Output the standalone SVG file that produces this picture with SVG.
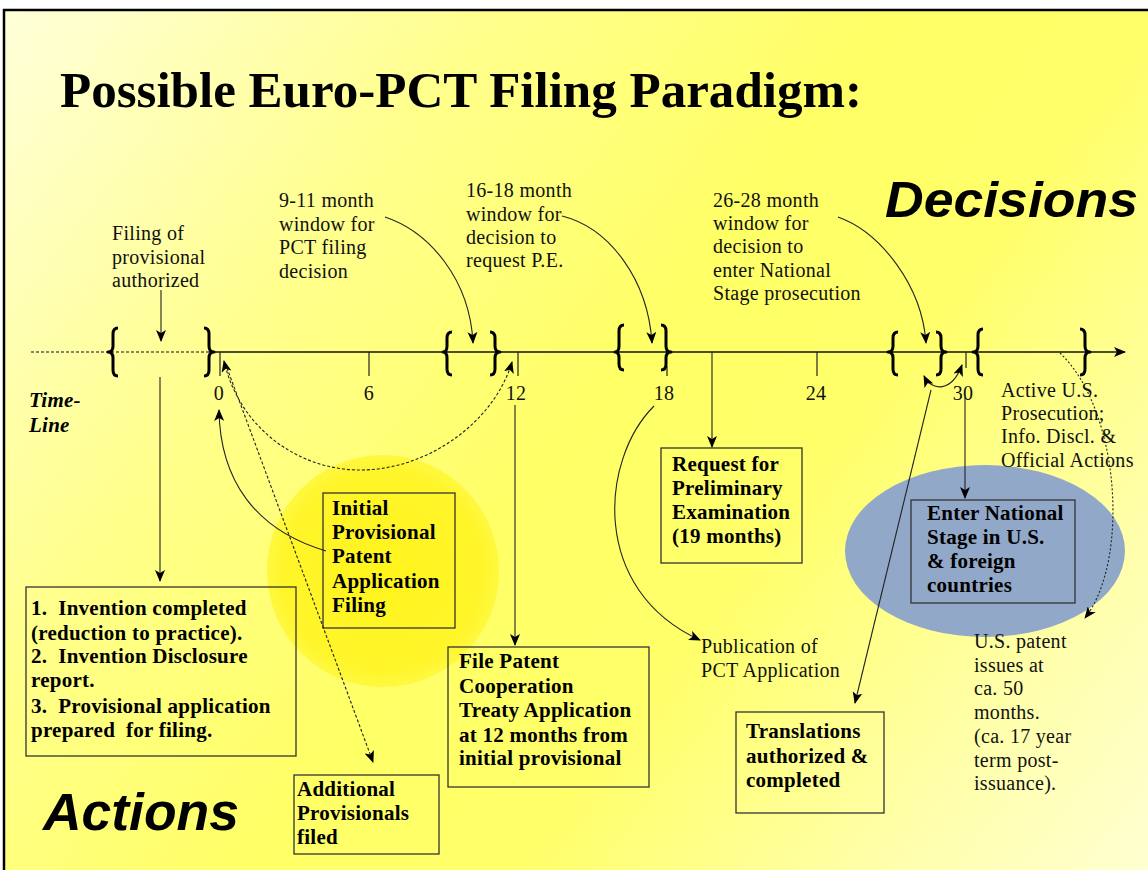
<svg xmlns="http://www.w3.org/2000/svg" width="1148" height="870" viewBox="0 0 1148 870">
<defs>
<linearGradient id="bg" gradientUnits="userSpaceOnUse" x1="0" y1="0" x2="1148" y2="870">
<stop offset="0" stop-color="#FFFFDC"/>
<stop offset="0.28" stop-color="#FFFF8C"/>
<stop offset="0.5" stop-color="#FFFF66"/>
<stop offset="0.65" stop-color="#FFFF6A"/>
<stop offset="0.85" stop-color="#FFFFAA"/>
<stop offset="1" stop-color="#FFFFD0"/>
</linearGradient>
<radialGradient id="sun" cx="0.5" cy="0.5" r="0.5">
<stop offset="0" stop-color="#FFF41C"/>
<stop offset="0.85" stop-color="#FFF52A"/>
<stop offset="1" stop-color="#FFF840"/>
</radialGradient>
<marker id="ah" viewBox="0 0 12 10" refX="11" refY="5" markerWidth="12" markerHeight="10" markerUnits="userSpaceOnUse" orient="auto-start-reverse">
<path d="M0,0 L12,5 L0,10 L3,5 z" fill="#000"/>
</marker>
<style>
.t{font-family:"Liberation Serif","Times New Roman",serif;font-size:20px;letter-spacing:0.3px;fill:#111;}
.b{font-family:"Liberation Serif","Times New Roman",serif;font-size:21px;letter-spacing:0.25px;font-weight:bold;fill:#000;}
.big{font-family:"Liberation Sans",Arial,sans-serif;font-weight:bold;font-style:italic;fill:#000;}
.box{fill:none;stroke:#333;stroke-width:1.3;}
.c{fill:none;stroke:#222;stroke-width:1.1;}
.d{fill:none;stroke:#222;stroke-width:1.1;stroke-dasharray:3,2;}
.br{fill:none;stroke:#000;stroke-width:3;stroke-linejoin:round;}
.tk{stroke:#222;stroke-width:1.2;}
</style>
</defs>
<rect x="0" y="0" width="1148" height="870" fill="#FFFFFF"/>
<rect x="4" y="10" width="1150" height="870" fill="url(#bg)" stroke="#000" stroke-width="2.5"/>

<circle cx="383" cy="571" r="116" fill="url(#sun)"/>
<ellipse cx="985" cy="551" rx="140" ry="86" fill="#92A8C8"/>

<text x="60" y="107" font-family="Liberation Serif,'Times New Roman',serif" font-size="51" font-weight="bold" textLength="802" lengthAdjust="spacingAndGlyphs">Possible Euro-PCT Filing Paradigm:</text>
<text class="big" x="885" y="217" font-size="50" textLength="253" lengthAdjust="spacingAndGlyphs">Decisions</text>
<text class="big" x="43" y="830" font-size="51" textLength="196" lengthAdjust="spacingAndGlyphs">Actions</text>

<g id="timeline">
<line x1="31" y1="352" x2="212" y2="352" stroke="#111" stroke-width="1.2" stroke-dasharray="3,2"/>
<line x1="212" y1="352" x2="1125" y2="352" stroke="#111" stroke-width="1.4" marker-end="url(#ah)"/>
<line class="tk" x1="220" y1="352" x2="220" y2="376"/>
<line class="tk" x1="369" y1="352" x2="369" y2="376"/>
<line class="tk" x1="518" y1="352" x2="518" y2="376"/>
<line class="tk" x1="667" y1="366" x2="667" y2="376"/>
<line class="tk" x1="817" y1="352" x2="817" y2="376"/>
<line class="tk" x1="966" y1="352" x2="966" y2="368"/>
<text class="t" x="219" y="400" text-anchor="middle">0</text>
<text class="t" x="369" y="400" text-anchor="middle">6</text>
<text class="t" x="516" y="400" text-anchor="middle">12</text>
<text class="t" x="664" y="400" text-anchor="middle">18</text>
<text class="t" x="816" y="400" text-anchor="middle">24</text>
<text class="t" x="963" y="400" text-anchor="middle">30</text>
<text class="b" x="29" y="407" font-style="italic">Time-</text>
<text class="b" x="29" y="432" font-style="italic">Line</text>
</g>

<g id="brackets">
<path class="br" d="M118,328 Q113,328 113,334 L113,346 Q113,352 108,352 Q113,352 113,358 L113,370 Q113,376 118,376"/>
<path class="br" d="M204,328 Q209,328 209,334 L209,346 Q209,352 214,352 Q209,352 209,358 L209,370 Q209,376 204,376"/>
<path class="br" d="M452,332 Q447,332 447,338 L447,346 Q447,352 443,352 Q447,352 447,358 L447,369 Q447,375 452,375"/>
<path class="br" d="M490,332 Q495,332 495,338 L495,346 Q495,352 500,352 Q495,352 495,358 L495,369 Q495,375 490,375"/>
<path class="br" d="M624,325 Q619,325 619,331 L619,346 Q619,352 615,352 Q619,352 619,358 L619,364 Q619,370 624,370"/>
<path class="br" d="M661,325 Q666,325 666,331 L666,346 Q666,352 671,352 Q666,352 666,358 L666,364 Q666,370 661,370"/>
<path class="br" d="M898,332 Q893,332 893,338 L893,346 Q893,352 888,352 Q893,352 893,358 L893,369 Q893,375 898,375"/>
<path class="br" d="M936,332 Q941,332 941,338 L941,346 Q941,352 946,352 Q941,352 941,358 L941,369 Q941,375 936,375"/>
<path class="br" d="M983,329 Q978,329 978,335 L978,346 Q978,352 973,352 Q978,352 978,358 L978,369 Q978,375 983,375"/>
<path class="br" d="M1080,329 Q1085,329 1085,335 L1085,346 Q1085,352 1090,352 Q1085,352 1085,358 L1085,369 Q1085,375 1080,375"/>
</g>

<g id="decision-labels">
<g id="filing-authorized">
<text class="t" x="112" y="240">Filing of</text>
<text class="t" x="112" y="264">provisional</text>
<text class="t" x="112" y="287">authorized</text>
</g>
<g id="window-9-11">
<text class="t" x="279" y="207">9-11 month</text>
<text class="t" x="279" y="231">window for</text>
<text class="t" x="279" y="254">PCT filing</text>
<text class="t" x="279" y="278">decision</text>
</g>
<g id="window-16-18">
<text class="t" x="466" y="197">16-18 month</text>
<text class="t" x="466" y="221">window for</text>
<text class="t" x="466" y="244">decision to</text>
<text class="t" x="466" y="267">request P.E.</text>
</g>
<g id="window-26-28">
<text class="t" x="713" y="207">26-28 month</text>
<text class="t" x="713" y="230">window for</text>
<text class="t" x="713" y="253">decision to</text>
<text class="t" x="713" y="277">enter National</text>
<text class="t" x="713" y="300">Stage prosecution</text>
</g>
<g id="active-prosecution">
<text class="t" x="1001" y="397">Active U.S.</text>
<text class="t" x="1001" y="420">Prosecution;</text>
<text class="t" x="1001" y="443">Info. Discl. &amp;</text>
<text class="t" x="1001" y="467">Official Actions</text>
</g>
<g id="publication">
<text class="t" x="701" y="653">Publication of</text>
<text class="t" x="701" y="677">PCT Application</text>
</g>
<g id="patent-issues">
<text class="t" x="974" y="648">U.S. patent</text>
<text class="t" x="974" y="672">issues at</text>
<text class="t" x="974" y="695">ca. 50</text>
<text class="t" x="974" y="719">months.</text>
<text class="t" x="974" y="743">(ca. 17 year</text>
<text class="t" x="974" y="767">term post-</text>
<text class="t" x="974" y="790">issuance).</text>
</g>
</g>

<g id="box-invention">
<rect class="box" x="26" y="587" width="270" height="169"/>
<text class="b" x="31" y="615" xml:space="preserve">1.  Invention completed</text>
<text class="b" x="31" y="640">(reduction to practice).</text>
<text class="b" x="31" y="663" xml:space="preserve">2.  Invention Disclosure</text>
<text class="b" x="31" y="687">report.</text>
<text class="b" x="31" y="713" xml:space="preserve">3.  Provisional application</text>
<text class="b" x="31" y="737" xml:space="preserve">prepared  for filing.</text>
</g>

<g id="box-initial">
<rect class="box" x="323" y="493" width="132" height="135"/>
<text class="b" x="332" y="515">Initial</text>
<text class="b" x="332" y="539">Provisional</text>
<text class="b" x="332" y="563">Patent</text>
<text class="b" x="332" y="588">Application</text>
<text class="b" x="332" y="612">Filing</text>
</g>

<g id="box-additional">
<rect class="box" x="294" y="775" width="145" height="79"/>
<text class="b" x="297" y="796">Additional</text>
<text class="b" x="297" y="820">Provisionals</text>
<text class="b" x="297" y="844">filed</text>
</g>

<g id="box-pct">
<rect class="box" x="448" y="647" width="201" height="140"/>
<text class="b" x="459" y="668">File Patent</text>
<text class="b" x="459" y="693">Cooperation</text>
<text class="b" x="459" y="717">Treaty Application</text>
<text class="b" x="459" y="742">at 12 months from</text>
<text class="b" x="459" y="765">initial provisional</text>
</g>

<g id="box-request">
<rect class="box" x="661" y="448" width="141" height="115"/>
<text class="b" x="672" y="471">Request for</text>
<text class="b" x="672" y="495">Preliminary</text>
<text class="b" x="672" y="519">Examination</text>
<text class="b" x="672" y="543">(19 months)</text>
</g>

<g id="box-translations">
<rect class="box" x="736" y="712" width="148" height="101"/>
<text class="b" x="746" y="738">Translations</text>
<text class="b" x="746" y="763">authorized &amp;</text>
<text class="b" x="746" y="787">completed</text>
</g>

<g id="box-national">
<rect class="box" x="911" y="500" width="164" height="103" stroke="#223"/>
<text class="b" x="927" y="520">Enter National</text>
<text class="b" x="927" y="544">Stage in U.S.</text>
<text class="b" x="927" y="568">&amp; foreign</text>
<text class="b" x="927" y="592">countries</text>
</g>

<g id="connectors">
<path class="c" d="M161,290 L161,341" marker-end="url(#ah)"/>
<path class="c" d="M160,377 L160,581" marker-end="url(#ah)"/>
<path class="c" d="M385,217 C430,232 470,280 473,343" marker-end="url(#ah)"/>
<path class="c" d="M562,216 C610,228 648,280 652,343" marker-end="url(#ah)"/>
<path class="c" d="M838,217 C880,232 922,285 926,343" marker-end="url(#ah)"/>
<path class="c" d="M712,352 L712,447" marker-end="url(#ah)"/>
<path class="c" d="M515,405 L515,645" marker-end="url(#ah)"/>
<path class="c" d="M965,397 L965,498" marker-end="url(#ah)"/>
<path class="c" d="M326,551 C255,530 220,480 219,410" marker-end="url(#ah)"/>
<path class="d" d="M224,361 C240,430 300,470 360,470 C430,470 495,420 512,362" marker-start="url(#ah)" marker-end="url(#ah)"/>
<path class="d" d="M227,368 Q265,470 373,762" marker-end="url(#ah)"/>
<path class="c" d="M654,406 C600,460 590,590 700,640" marker-end="url(#ah)"/>
<path class="c" d="M931,390 L855,703" marker-end="url(#ah)"/>
<path class="c" d="M924,376 C932,392 952,392 962,365" marker-start="url(#ah)" marker-end="url(#ah)"/>
<path class="c" d="M1060,353 C1120,410 1130,560 1085,618" stroke-dasharray="2,2" marker-end="url(#ah)"/>
</g>
</svg>
